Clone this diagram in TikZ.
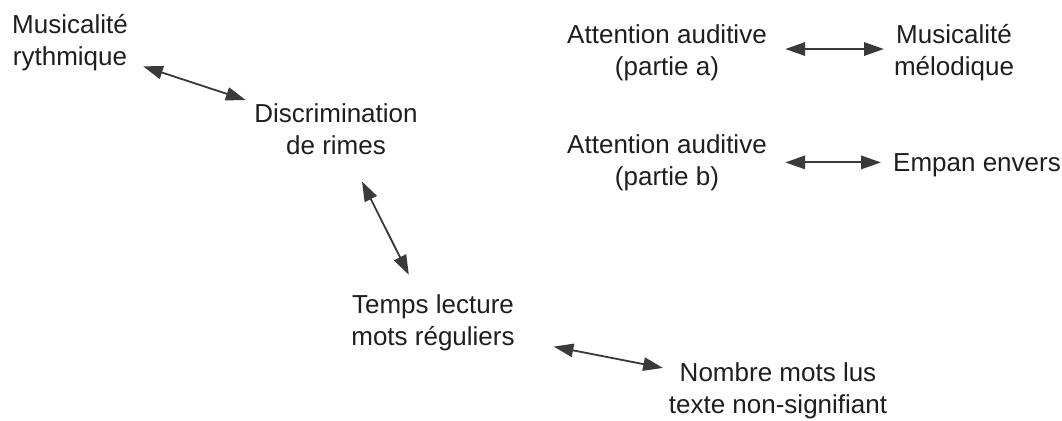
\documentclass[tikz,border=0pt]{standalone}
\usepackage{fontspec}
\setmainfont{Liberation Sans}
\usetikzlibrary{arrows.meta}
\definecolor{txtgray}{HTML}{1E1E1E}
\definecolor{arrgray}{HTML}{3A3A3A}
\tikzset{
  label/.style={align=center,inner sep=6pt,text=txtgray,font=\fontsize{18.5}{22.8}\selectfont},
  link/.style={draw=arrgray,line width=1.3pt,{Triangle[length=14pt,width=9.5pt]}-{Triangle[length=14pt,width=9.5pt]},shorten <=2pt,shorten >=2pt}
}
\begin{document}
\begin{tikzpicture}
      \useasboundingbox (0,0) rectangle (26.55,-10.5);
      % Nodes
      \node[label] (mr) at (1.75,-1.06) {Musicalité\\rythmique};
      \node[label] (dr) at (8.4,-3.24) {Discrimination\\de rimes};
      \node[label] (aa) at (16.675,-1.31) {Attention auditive\\(partie a)};
      \node[label] (mm) at (23.85,-1.31) {Musicalité\\mélodique};
      \node[label] (ab) at (16.675,-4.06) {Attention auditive\\(partie b)};
      \node[label] (ee) at (24.425,-4.125) {Empan envers};
      \node[label] (tl) at (10.825,-8.075) {Temps lecture\\mots réguliers};
      \node[label] (nm) at (19.45,-9.76) {Nombre mots lus\\texte non-signifiant};
      
      % Arrows
      \draw[link,shorten <=5pt,shorten >=0pt] (mr) -- (dr);
      \draw[link,shorten <=14pt,shorten >=9pt] (dr) -- (tl);
      \draw[link,shorten <=22pt,shorten >=-2pt] (tl) -- (nm);
      \draw[link,shorten <=7pt,shorten >=1pt] ([yshift=2.4pt]aa.east) -- ([yshift=2.4pt]mm.west);
      \draw[link,shorten <=7pt,shorten >=2.5pt] (ab.east) -- (ab.east -| ee.west);
\end{tikzpicture}
\end{document}
